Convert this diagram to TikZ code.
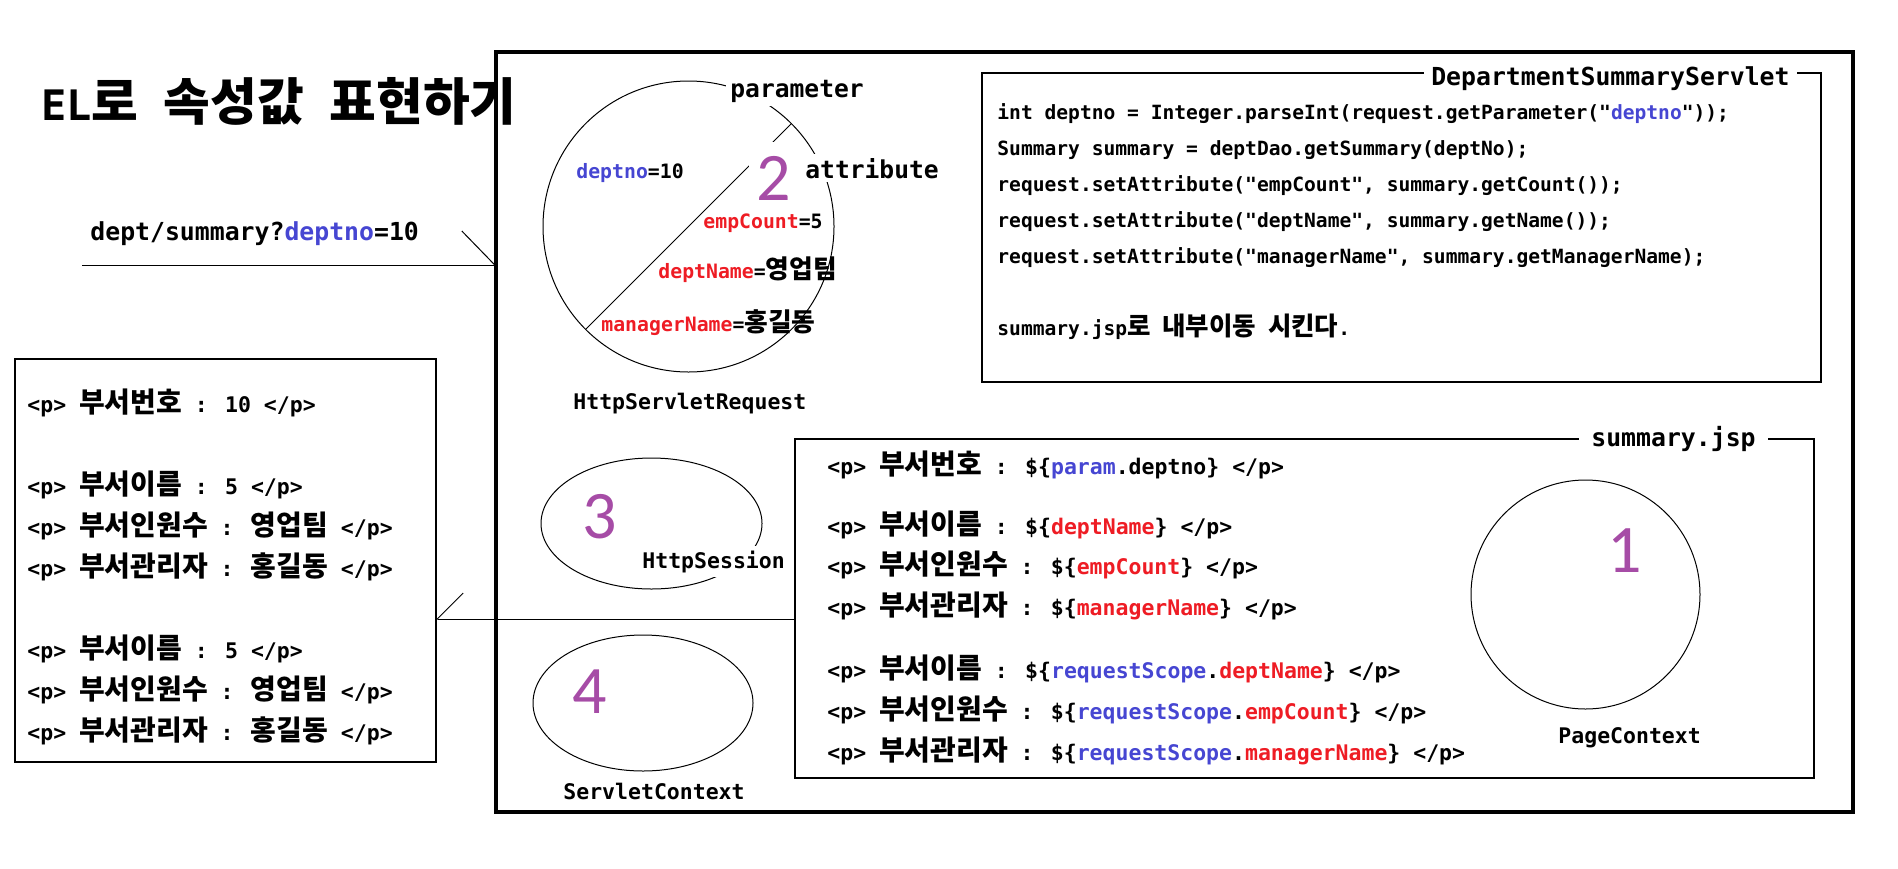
\documentclass[tikz,border=0pt]{standalone}
\usepackage{fontspec}
\setmainfont{DejaVu Sans Mono}
\newfontfamily\krfont{Noto Sans CJK KR}
\newfontfamily\numfont{Carlito}
\usetikzlibrary{arrows.meta, positioning, shapes.geometric}
\definecolor{scopeblue}{HTML}{4646D2}
\definecolor{attrred}{HTML}{EE1C24}
\definecolor{scopepurple}{HTML}{A64CA6}
\makeatletter
\newcommand{\krscale}{1.3}
\newcommand{\kr}[1]{{\krfont\bfseries\fontsize{\krscale\dimexpr\f@size pt\relax}{\f@baselineskip}\selectfont #1}}
\makeatother
\newcommand{\bl}[1]{\textcolor{scopeblue}{#1}}
\newcommand{\rd}[1]{\textcolor{attrred}{#1}}
\newcommand{\dq}{\textquotedbl}

\begin{document}
\begin{tikzpicture}[x=0.5pt, y=-0.5pt,
  box/.style={draw, line width=0.7pt, inner sep=0pt, outer sep=0pt},
  ring/.style={draw, line width=0.5pt, inner sep=0pt, outer sep=0pt},
  txt/.style={anchor=base west, inner sep=0pt, font=\bfseries\fontsize{10.75pt}{12pt}\selectfont},
  code/.style={anchor=base west, inner sep=0pt, font=\bfseries\fontsize{9.8pt}{11pt}\selectfont},
  small/.style={anchor=base west, inner sep=0pt, font=\bfseries\fontsize{9.9pt}{11pt}\selectfont},
  big/.style={anchor=base west, inner sep=2pt, fill=white, font=\bfseries\fontsize{12.3pt}{14pt}\selectfont},
  boxtitle/.style={anchor=base east, fill=white, inner ysep=1pt, font=\bfseries\fontsize{12.4pt}{14pt}\selectfont},
  scopeno/.style={anchor=base, inner sep=0pt, text=scopepurple, font=\numfont\fontsize{34pt}{36pt}\selectfont},
]
\useasboundingbox (0,0) rectangle (1898,868);

\node[draw, line width=2.2pt, inner sep=0pt, outer sep=0pt, minimum width=678.5pt, minimum height=380pt] (container) at (1174.5,432) {};
\node[anchor=base west, inner sep=0pt, font=\bfseries\fontsize{21pt}{24pt}\selectfont] (title) at (41,120) {\renewcommand{\krscale}{1.21}EL\kr{로} \kr{속성값} \kr{표현하기}};

\node[anchor=base west, inner sep=0pt, font=\bfseries\fontsize{12.4pt}{14pt}\selectfont] (url) at (90,240) {dept/summary?\bl{deptno}=10};
\coordinate (urlstart) at (82,265);
\draw[line width=0.5pt, -{Straight Barb[left, length=16.5pt, width=34pt]}] (urlstart) -- (urlstart -| container.west);

% request scope
\node[ring, circle, minimum size=145.5pt] (request) at (688.5,226.5) {};
\draw[line width=0.5pt] (request.225) -- (request.45);
\node[scopeno, fill=white, inner xsep=4pt, inner ysep=7pt] (requestno) at (774,200) {2};
\node[big] (paramlabel) at (726,97) {parameter};
\node[big] (attrlabel) at (801,178) {attribute};
\node[small] (deptnoval) at (576,178) {\bl{deptno}=10};
\node[small] (empcountval) at (703,228) {\rd{empCount}=5};
\node[small] (deptnameval) at (658,278) {\rd{deptName}=\kr{영업팀}};
\node[small] (managerval) at (601,331) {\rd{managerName}=\kr{홍길동}};
\node[txt] (requestlabel) at (573,409) {HttpServletRequest};

% session and application scope
\node[ring, ellipse, minimum width=110.5pt, minimum height=65.5pt] (session) at (651.5,523.5) {};
\node[scopeno] (sessionno) at (600,538) {3};
\node[txt, fill=white, inner sep=2.5pt] (sessionlabel) at (637,568) {HttpSession};
\node[ring, ellipse, minimum width=110pt, minimum height=68pt] (context) at (643,703) {};
\node[scopeno] (contextno) at (590,713) {4};
\node[txt] (contextlabel) at (563,799) {ServletContext};

% servlet
\node[box, minimum width=419.5pt, minimum height=154.5pt] (servlet) at (1401.5,227.5) {};
\node[boxtitle, inner xsep=3.5pt] (servletlabel) at (1797,85) {DepartmentSummaryServlet};
\node[code] (code1) at (997,119) {int deptno = Integer.parseInt(request.getParameter(\dq\bl{deptno}\dq));};
\node[code] (code2) at (997,155) {Summary summary = deptDao.getSummary(deptNo);};
\node[code] (code3) at (997,191) {request.setAttribute(\dq empCount\dq, summary.getCount());};
\node[code] (code4) at (997,227) {request.setAttribute(\dq deptName\dq, summary.getName());};
\node[code] (code5) at (997,263) {request.setAttribute(\dq managerName\dq, summary.getManagerName);};
\node[code] (code6) at (997,335) {summary.jsp\kr{로} \kr{내부이동} \kr{시킨다}.};

% jsp
\node[box, minimum width=509.5pt, minimum height=169.5pt] (jsp) at (1304.5,608.5) {};
\node[boxtitle, inner xsep=6pt] (jsplabel) at (1768,446) {summary.jsp};
\node[txt] (jsp1) at (827,474) {<p> \kr{부서번호} : \$\{\bl{param}.deptno\} </p>};
\node[txt] (jsp2) at (827,534) {<p> \kr{부서이름} : \$\{\rd{deptName}\} </p>};
\node[txt] (jsp3) at (827,574) {<p> \kr{부서인원수} : \$\{\rd{empCount}\} </p>};
\node[txt] (jsp4) at (827,615) {<p> \kr{부서관리자} : \$\{\rd{managerName}\} </p>};
\node[txt] (jsp5) at (827,678) {<p> \kr{부서이름} : \$\{\bl{requestScope}.\rd{deptName}\} </p>};
\node[txt] (jsp6) at (827,719) {<p> \kr{부서인원수} : \$\{\bl{requestScope}.\rd{empCount}\} </p>};
\node[txt] (jsp7) at (827,760) {<p> \kr{부서관리자} : \$\{\bl{requestScope}.\rd{managerName}\} </p>};
\node[ring, circle, minimum size=114.5pt] (page) at (1585.5,594.5) {};
\node[scopeno] (pageno) at (1625,572) {1};
\node[txt] (pagelabel) at (1558,743) {PageContext};

% output
\node[box, minimum width=210.5pt, minimum height=201.5pt] (output) at (225.5,560.5) {};
\node[txt] (out1) at (27,412) {<p> \kr{부서번호} : 10 </p>};
\node[txt] (out2) at (27,494) {<p> \kr{부서이름} : 5 </p>};
\node[txt] (out3) at (27,535) {<p> \kr{부서인원수} : \kr{영업팀} </p>};
\node[txt] (out4) at (27,576) {<p> \kr{부서관리자} : \kr{홍길동} </p>};
\node[txt] (out5) at (27,658) {<p> \kr{부서이름} : 5 </p>};
\node[txt] (out6) at (27,699) {<p> \kr{부서인원수} : \kr{영업팀} </p>};
\node[txt] (out7) at (27,740) {<p> \kr{부서관리자} : \kr{홍길동} </p>};

\coordinate (linkrow) at (0,619);
\draw[line width=0.5pt, -{Straight Barb[right, length=13pt, width=26pt]}] (jsp.west |- linkrow) -- (output.east |- linkrow);
\end{tikzpicture}
\end{document}
